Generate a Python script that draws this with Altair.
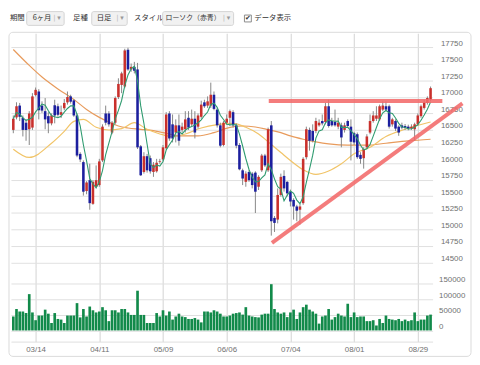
import json
import altair as alt
import numpy as np
import pandas as pd

# ---- data (one bar per weekday session, Mar 3 .. Sep 2) ----
tick_idx = [7, 27, 47, 67, 87, 107, 127]
tick_lab = ["03/14", "04/11", "05/09", "06/06", "07/04", "08/01", "08/29"]

open_ = [16501, 16690, 16868, 16684, 16610, 16511, 16536, 17027, 17081, 16868,
         16784, 16709, 16600, 16873, 16858, 16729, 16828, 16917, 17007, 16947,
         16719, 16139, 16015, 15578, 15742, 15385, 15643, 15668, 16040, 16749,
         16749, 16461, 16610, 16997, 17180, 17156, 17711, 17414, 17453, 17414,
         16253, 15866, 16104, 16074, 15866, 15876, 16020, 16055, 16223, 16749,
         16585, 16461, 16570, 16501, 16511, 16684, 16585, 16670, 16550, 16699,
         16917, 16868, 16868, 17032, 16808, 16570, 16273, 16610, 16684, 16769,
         16570, 16273, 15891, 15717, 15866, 15841, 15856, 15643, 15891, 16114,
         15891, 16570, 15172, 15147, 15519, 15806, 15717, 15568, 15444, 15345,
         15296, 15395, 16089, 16501, 16486, 16486, 16570, 16635, 16620, 16858,
         16635, 16620, 16550, 16570, 16501, 16635, 16550, 16451, 16436, 16124,
         16074, 16238, 16461, 16635, 16670, 16660, 16808, 16858, 16858, 16585,
         16635, 16550, 16570, 16560, 16550, 16521, 16511, 16585, 16709, 16833,
         16908, 16957]
high = [16719, 16918, 16908, 16719, 16660, 16784, 17056, 17141, 17116, 16932,
        16982, 16769, 16749, 16957, 16898, 16868, 16967, 17081, 17032, 16967,
        16749, 16164, 16040, 15727, 15990, 15742, 15965, 16064, 16585, 16868,
        16784, 16635, 17007, 17280, 17379, 17726, 17741, 17503, 17528, 17513,
        16273, 16164, 16139, 16114, 16015, 16064, 16064, 16273, 16769, 16784,
        16734, 16660, 16734, 16610, 16784, 16784, 16808, 16784, 16749, 16942,
        16957, 17007, 17215, 17081, 16833, 16610, 16635, 16734, 16808, 16798,
        16600, 16302, 15916, 15876, 15891, 15866, 15876, 15816, 16139, 16139,
        16536, 16635, 15200, 15618, 15841, 15891, 15727, 15600, 15469, 15370,
        15380, 16089, 16550, 16536, 16585, 16684, 16660, 16734, 16908, 16957,
        16684, 16808, 16684, 16610, 16610, 16660, 16660, 16471, 16461, 16164,
        16238, 16436, 16734, 16784, 16858, 16883, 16932, 16932, 16883, 16684,
        16660, 16570, 16610, 16590, 16580, 16585, 16610, 16749, 16883, 16957,
        17007, 17156]
low = [16451, 16660, 16635, 16402, 16337, 16273, 16501, 17007, 16660, 16759,
       16511, 16451, 16570, 16600, 16699, 16680, 16798, 16883, 16898, 16699,
       16089, 16015, 15509, 15529, 15296, 15370, 15618, 15643, 16015, 16570,
       16550, 16436, 16585, 16967, 17056, 17131, 17394, 17379, 17354, 16213,
       15806, 15841, 15856, 15841, 15792, 15856, 15990, 16035, 16203, 16337,
       16312, 16312, 16263, 16461, 16461, 16501, 16550, 16372, 16521, 16670,
       16833, 16833, 16833, 16798, 16536, 16238, 16253, 16585, 16560, 16536,
       16223, 15891, 15668, 15643, 15717, 15618, 15246, 15593, 15866, 15941,
       15866, 14905, 14960, 15090, 15494, 15570, 15500, 15345, 15147, 15122,
       15072, 15370, 16055, 16188, 16312, 16451, 16550, 16570, 16585, 16536,
       16550, 16550, 16511, 16238, 16461, 16536, 16040, 16273, 16064, 15990,
       15916, 16213, 16436, 16610, 16635, 16635, 16784, 16784, 16521, 16550,
       16486, 16412, 16511, 16500, 16495, 16500, 16337, 16560, 16684, 16808,
       16883, 16932]
close = [16670, 16858, 16699, 16501, 16501, 16749, 17007, 17106, 16798, 16793,
         16660, 16600, 16719, 16719, 16729, 16769, 16908, 16997, 16927, 16719,
         16114, 16055, 15568, 15707, 15395, 15717, 15742, 16025, 16550, 16610,
         16585, 16610, 16982, 17195, 17354, 17701, 17414, 17453, 17394, 16238,
         15816, 16104, 15891, 15876, 15975, 16005, 16030, 16238, 16734, 16372,
         16372, 16570, 16337, 16550, 16660, 16536, 16670, 16461, 16719, 16883,
         16858, 16932, 17032, 16818, 16570, 16263, 16610, 16670, 16784, 16570,
         16263, 15906, 15767, 15841, 15742, 15668, 15568, 15792, 16114, 15965,
         16511, 15122, 15097, 15519, 15792, 15618, 15543, 15420, 15345, 15281,
         15345, 16064, 16511, 16337, 16337, 16635, 16610, 16600, 16858, 16560,
         16570, 16570, 16610, 16387, 16570, 16560, 16322, 16312, 16089, 16064,
         16213, 16402, 16635, 16719, 16719, 16858, 16868, 16808, 16550, 16660,
         16521, 16461, 16536, 16530, 16521, 16550, 16585, 16719, 16858, 16917,
         16982, 17131]
volume = [45000, 69000, 61000, 61000, 56000, 117000, 58000, 33000, 48000, 48000,
          67000, 54000, 24000, 56000, 37000, 35000, 24000, 48000, 48000, 48000,
          88000, 42000, 69000, 45000, 77000, 65000, 58000, 61000, 75000, 65000,
          30000, 65000, 65000, 58000, 69000, 69000, 58000, 50000, 50000, 128000,
          50000, 50000, 24000, 24000, 24000, 56000, 45000, 65000, 48000, 61000,
          35000, 45000, 54000, 45000, 43000, 37000, 37000, 40000, 35000, 26000,
          61000, 61000, 58000, 65000, 61000, 54000, 45000, 45000, 48000, 54000,
          56000, 58000, 51000, 75000, 48000, 45000, 43000, 42000, 51000, 54000,
          54000, 149000, 69000, 58000, 54000, 58000, 43000, 58000, 67000, 37000,
          58000, 75000, 83000, 67000, 61000, 54000, 22000, 45000, 48000, 69000,
          35000, 43000, 54000, 48000, 45000, 86000, 43000, 58000, 43000, 45000,
          45000, 30000, 30000, 33000, 16000, 37000, 24000, 48000, 37000, 35000,
          33000, 37000, 30000, 35000, 30000, 33000, 58000, 30000, 35000, 35000,
          48000, 51000]

ma25_idx = [0, 5, 12, 16, 19, 22, 26, 30, 34, 38, 42, 46, 50, 54, 59, 64, 69, 73,
            77, 81, 84, 87, 91, 95, 99, 103, 107, 112, 117, 123, 131]
ma25_val = [16210, 16085, 16300, 16480, 16630, 16660, 16540, 16500, 16520, 16610,
            16510, 16440, 16400, 16440, 16530, 16580, 16600, 16540, 16440, 16280,
            16160, 16040, 15900, 15830, 15880, 15990, 16140, 16240, 16400, 16510, 16620]
ma75_idx = [0, 5, 9, 14, 19, 23, 27, 30, 33, 36, 40, 44, 48, 52, 58, 63, 68, 72,
            76, 80, 84, 87, 91, 95, 99, 105, 111, 117, 124, 131]
ma75_val = [17715, 17475, 17300, 17120, 16960, 16810, 16690, 16620, 16560, 16530,
            16510, 16490, 16450, 16410, 16410, 16460, 16540, 16560, 16545, 16505,
            16460, 16410, 16360, 16320, 16290, 16270, 16270, 16300, 16335, 16360]

trend_name = ["resistance", "resistance", "support", "support"]
trend_idx = [80.2, 134.7, 81.2, 141.0]
trend_val = [16938, 16938, 14795, 16902]

price_ticks = list(range(14500, 17751, 250))
vol_ticks = [0, 50000, 100000, 150000]

# ---- tables ----
n = len(close)
df = pd.DataFrame({"i": np.arange(n), "o": open_, "h": high, "l": low,
                   "c": close, "vol": volume})
df["dir"] = np.where(df["c"] >= df["o"], "up", "down")
ma25_df = pd.DataFrame({"i": ma25_idx, "v": ma25_val})
ma75_df = pd.DataFrame({"i": ma75_idx, "v": ma75_val})
trend_df = pd.DataFrame({"g": trend_name, "i": trend_idx, "p": trend_val})
one = pd.DataFrame({"a": [0]})

RED, BLUE = "#c9302c", "#1c1f9e"
LAB = dict(labelFont="Liberation Sans", labelFontSize=8, labelColor="#707070")

xs = alt.Scale(domain=[-0.74, 131.64], nice=False, zero=False, padding=0)
ys = alt.Scale(domain=[14420, 17960], nice=False, zero=False, padding=0)

ax_xp = alt.Axis(values=tick_idx, grid=True, gridColor="#d2d2d2", labels=False,
                 ticks=False, domain=False, title=None)
ax_yp = alt.Axis(orient="right", values=price_ticks, grid=True, gridColor="#e0e0e0",
                 domain=False, ticks=False, labelPadding=8, format="d",
                 labelBaseline="bottom", title=None, **LAB)

X = alt.X("i:Q", scale=xs, axis=ax_xp, title=None)

def Yp(f):
    return alt.Y(f, scale=ys, axis=ax_yp, title=None)

ma75 = alt.Chart(ma75_df).mark_line(color="#e89b5c", strokeWidth=1.2,
                                    interpolate="monotone").encode(x=X, y=Yp("v:Q"))
ma25 = alt.Chart(ma25_df).mark_line(color="#f1c468", strokeWidth=1.2,
                                    interpolate="monotone").encode(x=X, y=Yp("v:Q"))
wick = alt.Chart(df).mark_rule(color="#868686", strokeWidth=1).encode(
    x=X, y=Yp("l:Q"), y2="h:Q")
body = alt.Chart(df).mark_bar(size=2.6).encode(
    x=X, y=Yp("o:Q"), y2="c:Q",
    color=alt.Color("dir:N", scale=alt.Scale(domain=["up", "down"], range=[RED, BLUE]),
                    legend=None))
ma5 = alt.Chart(df).transform_window(
    ma5="mean(c)", frame=[-4, 0], sort=[alt.SortField("i")]
).mark_line(color="#2e9b6f", strokeWidth=1.1).encode(x=X, y=Yp("ma5:Q"))
trend = alt.Chart(trend_df).mark_line(color="#f26a6a", strokeWidth=4, opacity=0.88,
                                      clip=False, strokeCap="butt").encode(
    x=X, y=Yp("p:Q"), detail="g:N")

# ---- toolbar / frame decorations ----
JP = "Noto Sans CJK JP"

def txt(s, x, size=7.5, color="#333333", font=JP):
    return alt.Chart(one).mark_text(text=s, align="left", baseline="middle", font=font,
                                    fontSize=size, color=color).encode(
        x=alt.value(x), y=alt.value(-15))

def box(x1, x2):
    return alt.Chart(one).mark_rect(fill="#f1f1f1", stroke="#d3d3d3", strokeWidth=1,
                                    cornerRadius=2).encode(
        x=alt.value(x1), x2=alt.value(x2), y=alt.value(-22), y2=alt.value(-8))

frame = alt.Chart(one).mark_rect(fillOpacity=0, stroke="#dadada", strokeWidth=1,
                                 cornerRadius=4).encode(
    x=alt.value(-2), x2=alt.value(467), y=alt.value(-1), y2=alt.value(328))
check = alt.Chart(one).mark_rect(fill="white", stroke="#8a8a8a", strokeWidth=1).encode(
    x=alt.value(237), x2=alt.value(244), y=alt.value(-18.5), y2=alt.value(-11.5))

decos = [
    frame,
    txt("期間", -1),
    box(16, 54), txt("6ヶ月", 22), txt("|", 43, 7, "#b5b5b5", "DejaVu Sans"),
    txt("▾", 47, 7, "#999999", "DejaVu Sans"),
    txt("足種", 63),
    box(82, 118), txt("日足", 87), txt("|", 107, 7, "#b5b5b5", "DejaVu Sans"),
    txt("▾", 111, 7, "#999999", "DejaVu Sans"),
    txt("スタイル", 125),
    box(154, 226), txt("ローソク（赤青）", 157, 7), txt("|", 215, 7, "#b5b5b5", "DejaVu Sans"),
    txt("▾", 219, 7, "#999999", "DejaVu Sans"),
    check, txt("✔", 237.5, 7, "#333333", "DejaVu Sans"),
    txt("データ表示", 247),
]

price = alt.layer(ma75, ma25, wick, body, ma5, trend, *decos).properties(
    width=428, height=238)

# ---- volume panel ----
labexpr = json.dumps(tick_lab) + "[round((datum.value-7)/20)]"
ax_xv = alt.Axis(values=tick_idx, grid=True, gridColor="#d2d2d2", ticks=False,
                 domain=False, labelExpr=labexpr, labelPadding=4, title=None, **LAB)
ax_yv = alt.Axis(orient="right", values=[-36000] + vol_ticks, grid=True,
                 gridColor="#e0e0e0", domain=False, ticks=False, labelPadding=6,
                 format="d", labelBaseline="bottom",
                 labelExpr="datum.value < 0 ? '' : datum.label", title=None, **LAB)

vol = alt.Chart(df).mark_bar(size=2.7, color="#128a4a").encode(
    x=alt.X("i:Q", scale=xs, axis=ax_xv, title=None),
    y=alt.Y("vol:Q", scale=alt.Scale(domain=[-36000, 202000], nice=False, zero=False,
                                     padding=0),
            axis=ax_yv, title=None),
    y2=alt.datum(0),
).properties(width=428, height=75)

chart = alt.vconcat(price, vol, spacing=0, bounds="flush").properties(
    padding=0, background="white").configure_view(stroke=None)

chart.save("out.html", embed_options={"renderer": "svg", "actions": False})
